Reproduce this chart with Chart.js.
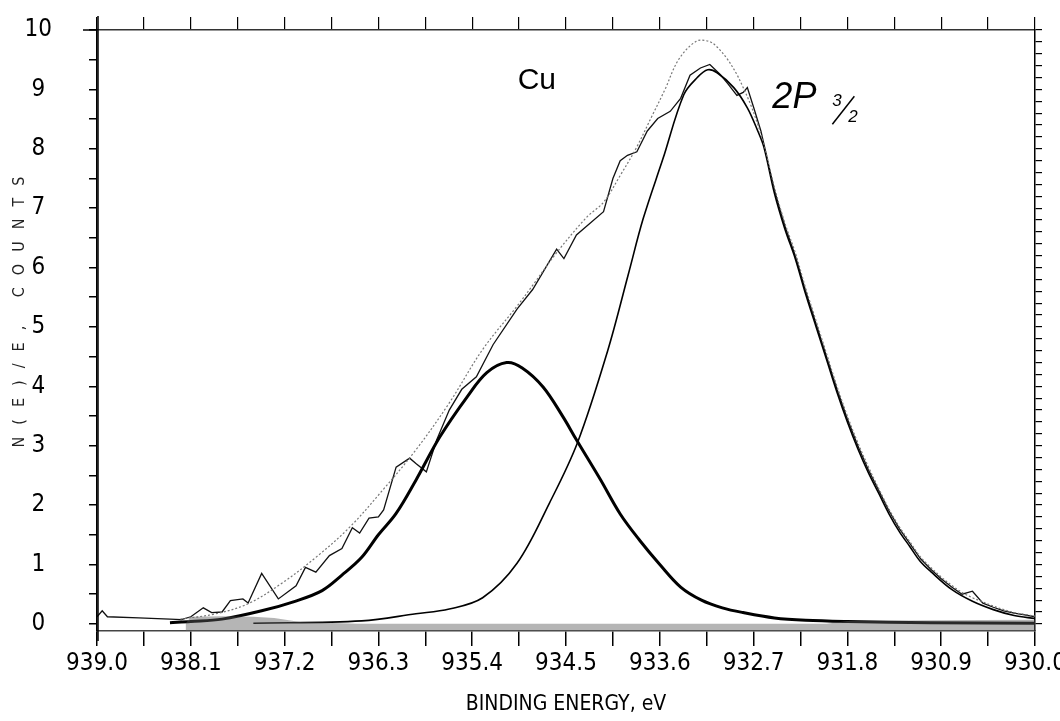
<!DOCTYPE html>
<html>
<head>
<meta charset="utf-8">
<title>Cu 2P3/2</title>
<script src="https://cdn.jsdelivr.net/npm/chart.js@4.4.0/dist/chart.umd.min.js"></script>
<style>
  html, body { margin: 0; padding: 0; background: #fff; }
</style>
</head>
<body>
<canvas id="xps" width="1060" height="721"></canvas>
<script>
// axis ticks
var energyTicks  = [939.0, 938.1, 937.2, 936.3, 935.4, 934.5, 933.6, 932.7, 931.8, 930.9, 930.0];
var energyLabels = ['939.0', '938.1', '937.2', '936.3', '935.4', '934.5', '933.6', '932.7', '931.8', '930.9', '930.0'];
var countTicks   = [0, 1, 2, 3, 4, 5, 6, 7, 8, 9, 10];
var countLabels  = ['0', '1', '2', '3', '4', '5', '6', '7', '8', '9', '10'];

// measured spectrum
var rawEnergy = [939.00, 938.95, 938.90, 938.60, 938.30, 938.19, 938.10, 937.98, 937.90, 937.80, 937.72,
  937.60, 937.55, 937.42, 937.26, 937.09, 937.00, 936.90, 936.77, 936.65, 936.55, 936.48, 936.39,
  936.30, 936.25, 936.13, 936.00, 935.94, 935.84, 935.74, 935.62, 935.50, 935.36, 935.20, 934.97,
  934.82, 934.59, 934.52, 934.40, 934.30, 934.14, 934.05, 933.98, 933.91, 933.82, 933.72, 933.62,
  933.50, 933.40, 933.31, 933.21, 933.12, 933.02, 932.95, 932.86, 932.80, 932.76, 932.70, 932.63,
  932.50, 932.40, 932.30, 932.20, 932.10, 932.00, 931.90, 931.80, 931.70, 931.60, 931.50, 931.40,
  931.30, 931.20, 931.10, 931.00, 930.90, 930.80, 930.70, 930.60, 930.50, 930.40, 930.30, 930.20,
  930.10, 930.00];
var rawCounts = [0.12, 0.22, 0.12, 0.10, 0.08, 0.07, 0.12, 0.27, 0.19, 0.20, 0.39,
  0.42, 0.35, 0.85, 0.42, 0.64, 0.95, 0.87, 1.15, 1.27, 1.62, 1.53, 1.78,
  1.80, 1.92, 2.64, 2.79, 2.70, 2.56, 3.10, 3.60, 3.95, 4.16, 4.70, 5.30,
  5.63, 6.31, 6.15, 6.55, 6.70, 6.94, 7.50, 7.80, 7.89, 7.95, 8.30, 8.51,
  8.63, 8.85, 9.24, 9.36, 9.42, 9.25, 9.10, 8.90, 8.95, 9.03, 8.70, 8.30,
  7.30, 6.70, 6.20, 5.60, 5.05, 4.50, 3.95, 3.45, 3.00, 2.60, 2.25, 1.90,
  1.60, 1.35, 1.10, 0.92, 0.76, 0.62, 0.50, 0.55, 0.35, 0.28, 0.22, 0.18,
  0.15, 0.12];

// sum of the fitted components
var sumEnergy = [938.20, 937.86, 937.55, 937.23, 936.90, 936.58, 936.26, 935.94, 935.62, 935.30,
  934.97, 934.82, 934.59, 934.30, 934.14, 933.98, 933.83, 933.67, 933.55, 933.42, 933.25, 933.13,
  933.06, 932.96, 932.86, 932.80, 932.73, 932.66, 932.60, 932.50, 932.40, 932.30, 932.20, 932.10,
  932.00, 931.90, 931.80, 931.70, 931.60, 931.50, 931.40, 931.30, 931.20, 931.10, 931.00, 930.90,
  930.80, 930.70, 930.60, 930.50, 930.40, 930.30, 930.20, 930.10, 930.00];
var sumCounts = [0.08, 0.17, 0.34, 0.68, 1.12, 1.62, 2.25, 2.93, 3.72, 4.62,
  5.35, 5.70, 6.25, 6.85, 7.10, 7.55, 8.00, 8.57, 9.00, 9.50, 9.81, 9.81,
  9.73, 9.53, 9.25, 9.03, 8.75, 8.41, 8.07, 7.35, 6.75, 6.25, 5.65, 5.10,
  4.55, 4.00, 3.50, 3.05, 2.65, 2.28, 1.93, 1.63, 1.38, 1.13, 0.95, 0.79,
  0.65, 0.53, 0.44, 0.37, 0.30, 0.24, 0.19, 0.16, 0.13];

// component near 935.1 eV
var peakAEnergy = [938.30, 938.10, 937.80, 937.42, 937.10, 936.84, 936.65, 936.46, 936.30, 936.13,
  935.94, 935.71, 935.45, 935.26, 935.07, 934.92, 934.72, 934.53, 934.40, 934.17, 933.98, 933.79,
  933.60, 933.40, 933.20, 933.00, 932.80, 932.50, 932.20, 931.80, 931.00, 930.00];
var peakACounts = [0.02, 0.04, 0.08, 0.22, 0.38, 0.56, 0.82, 1.12, 1.50, 1.86,
  2.42, 3.15, 3.82, 4.23, 4.40, 4.31, 3.99, 3.49, 3.10, 2.43, 1.85, 1.40,
  1.00, 0.62, 0.40, 0.27, 0.19, 0.10, 0.06, 0.04, 0.02, 0.01];

// component near 933.1 eV
var peakBEnergy = [937.50, 936.46, 935.94, 935.62, 935.30, 934.97, 934.66, 934.39, 934.10, 933.90,
  933.76, 933.57, 933.37, 933.24, 933.14, 933.05, 932.89, 932.76, 932.66, 932.60, 932.50, 932.40,
  932.30, 932.20, 932.10, 932.00, 931.90, 931.80, 931.70, 931.60, 931.50, 931.40, 931.30, 931.20,
  931.10, 931.00, 930.80, 930.60, 930.40, 930.20, 930.00];
var peakBCounts = [0.01, 0.05, 0.17, 0.25, 0.44, 1.02, 2.03, 3.05, 4.60, 5.90,
  6.82, 7.83, 8.91, 9.20, 9.33, 9.28, 9.03, 8.69, 8.30, 8.02, 7.25, 6.65,
  6.15, 5.55, 5.00, 4.45, 3.90, 3.40, 2.95, 2.55, 2.20, 1.85, 1.55, 1.30,
  1.05, 0.88, 0.58, 0.38, 0.24, 0.14, 0.09];

// background under the peaks
var bgEnergy = [938.15, 938.10, 937.80, 937.50, 937.30, 937.05, 936.50, 935.00, 933.00, 932.00, 931.80, 931.00, 930.00];
var bgCounts = [0.00, 0.12, 0.13, 0.12, 0.10, 0.03, 0.00, 0.00, 0.00, 0.00, 0.05, 0.06, 0.07];

var countTitle = 'N(E)/E, COUNTS';

function pairs(xs, ys) {
  return xs.map(function (x, i) { return { x: x, y: ys[i] }; });
}

var printFont = "'DejaVu Sans Condensed', 'Liberation Sans Narrow', 'DejaVu Sans', sans-serif";

// tick positions between the labelled ones
function withMinor(major, parts) {
  var out = [];
  for (var i = 0; i < major.length; i++) {
    out.push(major[i]);
    if (i < major.length - 1) {
      for (var k = 1; k < parts; k++) {
        out.push(major[i] + (major[i + 1] - major[i]) * k / parts);
      }
    }
  }
  return out;
}

function labelFor(value, ticks, labels) {
  for (var i = 0; i < ticks.length; i++) {
    if (Math.abs(ticks[i] - value) < 1e-6) return labels[i];
  }
  return '';
}

// keep the frame where it is: labels may hang over the edges
function fixed(size, horizontal) {
  return function (s) {
    if (horizontal) s.height = size; else s.width = size;
    s.paddingTop = 0; s.paddingBottom = 0;
    s.paddingLeft = 0; s.paddingRight = 0;
  };
}

// the printed annotations
var annotate = {
  id: 'annotate',
  afterDraw: function (chart) {
    var ctx = chart.ctx, xs = chart.scales.x, ys = chart.scales.y;
    var a = chart.chartArea;
    ctx.save();
    ctx.fillStyle = '#000';
    ctx.textBaseline = 'middle';
    ctx.textAlign = 'center';
    ctx.font = "30px 'Liberation Sans', sans-serif";
    ctx.fillText('Cu', xs.getPixelForValue(934.78), ys.getPixelForValue(9.15));

    var px = xs.getPixelForValue(932.52), py = ys.getPixelForValue(8.85);
    ctx.textAlign = 'left';
    ctx.font = "italic 36px 'Liberation Sans', sans-serif";
    ctx.fillText('2P', px, py);
    ctx.font = "italic 17px 'Liberation Sans', sans-serif";
    ctx.fillText('3', px + 60, py + 3);
    ctx.fillText('2', px + 76, py + 19);
    ctx.lineWidth = 1.5;
    ctx.strokeStyle = '#000';
    ctx.beginPath();
    ctx.moveTo(px + 60, py + 26);
    ctx.lineTo(px + 82, py - 2);
    ctx.stroke();

    // spaced-out vertical axis caption
    ctx.save();
    ctx.translate(20, 312);
    ctx.rotate(-Math.PI / 2);
    ctx.textAlign = 'center';
    ctx.font = '16px ' + printFont;
    ctx.letterSpacing = '12px';
    ctx.fillStyle = '#222';
    ctx.fillText(countTitle, 6, 0);
    ctx.restore();

    // axis lines run a little past the frame
    ctx.lineWidth = 1.5;
    ctx.beginPath();
    ctx.moveTo(a.left + 1, a.top - 14);
    ctx.lineTo(a.left + 1, a.bottom + 10);
    ctx.moveTo(a.left - 14, a.top);
    ctx.lineTo(a.left, a.top);
    ctx.stroke();
    ctx.restore();
  }
};

new Chart(document.getElementById('xps'), {
  type: 'line',
  data: {
    datasets: [
      {
        label: 'background',
        data: pairs(bgEnergy, bgCounts),
        borderWidth: 0,
        pointRadius: 0,
        backgroundColor: 'rgba(90,90,90,0.45)',
        fill: 'start'
      },
      {
        label: 'sum',
        data: pairs(sumEnergy, sumCounts),
        borderColor: '#777',
        borderWidth: 1.2,
        borderDash: [2, 2],
        pointRadius: 0,
        tension: 0.35,
        fill: false
      },
      {
        label: 'peak A',
        data: pairs(peakAEnergy, peakACounts),
        borderColor: '#000',
        borderWidth: 3,
        pointRadius: 0,
        tension: 0.35,
        fill: false
      },
      {
        label: 'peak B',
        data: pairs(peakBEnergy, peakBCounts),
        borderColor: '#000',
        borderWidth: 1.6,
        pointRadius: 0,
        tension: 0.35,
        fill: false
      },
      {
        label: 'spectrum',
        data: pairs(rawEnergy, rawCounts),
        borderColor: '#111',
        borderWidth: 1.3,
        pointRadius: 0,
        tension: 0,
        fill: false
      }
    ]
  },
  options: {
    responsive: false,
    animation: false,
    devicePixelRatio: 1,
    layout: { padding: 0, autoPadding: false },
    plugins: {
      legend: { display: false },
      tooltip: { enabled: false }
    },
    scales: {
      x: {
        type: 'linear',
        position: 'bottom',
        reverse: true,
        min: 930, max: 939,
        afterBuildTicks: function (s) {
          s.ticks = withMinor(energyTicks, 2).map(function (v) { return { value: v }; });
        },
        afterFit: fixed(90, true),
        border: { display: true, color: '#444', width: 1.5, dash: [6, 2] },
        grid: { drawOnChartArea: false, drawTicks: true, tickLength: 15, color: '#000', lineWidth: 1.5 },
        ticks: {
          autoSkip: false,
          maxRotation: 0,
          padding: 3,
          color: '#000',
          font: { family: printFont, size: 24 },
          callback: function (v) { return labelFor(v, energyTicks, energyLabels); }
        },
        title: {
          display: true,
          text: 'BINDING ENERGY, eV',
          color: '#000',
          font: { family: printFont, size: 21 },
          padding: { top: 0, bottom: 4 }
        }
      },
      xTop: {
        type: 'linear',
        position: 'top',
        reverse: true,
        min: 930, max: 939,
        afterBuildTicks: function (s) {
          s.ticks = withMinor(energyTicks, 2).map(function (v) { return { value: v }; });
        },
        afterFit: fixed(30, true),
        border: { display: true, color: '#333', width: 1.5 },
        grid: { drawOnChartArea: false, drawTicks: true, tickLength: 13, color: '#000', lineWidth: 1.2 },
        ticks: { display: false }
      },
      y: {
        type: 'linear',
        position: 'left',
        min: -0.12, max: 10,
        afterBuildTicks: function (s) {
          s.ticks = withMinor(countTicks, 2).map(function (v) { return { value: v }; });
        },
        afterFit: fixed(97, false),
        border: { display: true, color: '#000', width: 1.5 },
        grid: { drawOnChartArea: false, drawTicks: true, tickLength: 8, color: '#000', lineWidth: 1.5 },
        ticks: {
          autoSkip: false,
          crossAlign: 'center',
          padding: 37,
          color: '#000',
          font: { family: printFont, size: 24 },
          callback: function (v) { return labelFor(v, countTicks, countLabels); }
        }
      },
      yRight: {
        type: 'linear',
        position: 'right',
        min: -0.12, max: 10,
        afterBuildTicks: function (s) {
          s.ticks = withMinor(countTicks, 5).map(function (v) { return { value: v }; });
        },
        afterFit: fixed(25, false),
        border: { display: true, color: '#000', width: 1.5 },
        grid: { drawOnChartArea: false, drawTicks: true, tickLength: 7, color: '#000', lineWidth: 1.2 },
        ticks: { display: false }
      }
    }
  },
  plugins: [annotate]
});
</script>
</body>
</html>
